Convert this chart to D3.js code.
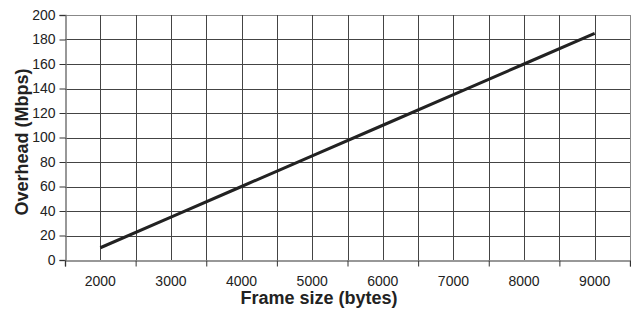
<!DOCTYPE html>
<html>
<head>
<meta charset="utf-8">
<script src="https://cdn.jsdelivr.net/npm/d3@7"></script>
<style>
body { margin: 0; background: #fff; }
text { font-family: "Liberation Sans", Arial, sans-serif; fill: #222; }
</style>
</head>
<body>
<script>
var frameSizes = [2000, 3000, 4000, 5000, 6000, 7000, 8000, 9000]
var overhead = [10, 35, 60, 85, 110, 135, 160, 185]
var yTicks = [0, 20, 40, 60, 80, 100, 120, 140, 160, 180, 200]
var boundaries = [1500, 2500, 3500, 4500, 5500, 6500, 7500, 8500, 9500]

var W = 631, H = 311
var m = { left: 65, right: 1, top: 15, bottom: 51 }

var svg = d3.select('body').append('svg')
	.attr('width', W)
	.attr('height', H)

var x = d3.scaleLinear().domain([1500, 9500]).range([m.left, W - m.right])
var y = d3.scaleLinear().domain([0, 200]).range([H - m.bottom, m.top])

// grid
var grid = svg.append('g')
grid.selectAll('line.h')
	.data(yTicks.slice(1))
	.enter().append('line')
	.attr('x1', m.left).attr('x2', W - m.right)
	.attr('y1', function(d) { return Math.round(y(d)) + 0.5 })
	.attr('y2', function(d) { return Math.round(y(d)) + 0.5 })
	.attr('stroke', function(d) { return d === 200 ? '#888' : '#444' })
	.attr('stroke-width', 1)
grid.selectAll('line.v')
	.data(frameSizes.concat(boundaries.slice(1)))
	.enter().append('line')
	.attr('y1', m.top).attr('y2', H - m.bottom)
	.attr('x1', function(d) { return Math.round(x(d)) + 0.5 })
	.attr('x2', function(d) { return Math.round(x(d)) + 0.5 })
	.attr('stroke', function(d) { return d === 9500 ? '#888' : '#444' })
	.attr('stroke-width', 1)

// y axis
var yAxis = svg.append('g')
	.attr('transform', 'translate(' + (m.left + 0.5) + ',0)')
	.call(d3.axisLeft(y).tickValues(yTicks).tickSize(6).tickPadding(4))
yAxis.select('.domain').attr('stroke', '#777').attr('stroke-width', 1.5)
yAxis.selectAll('.tick line').attr('stroke', '#333')
yAxis.selectAll('text').style('font-size', '14px').attr('fill', '#222')

// x axis: ticks at category boundaries, labels at category centers
var xAxis = svg.append('g')
	.attr('transform', 'translate(0,' + (Math.round(y(0)) + 0.5) + ')')
	.call(d3.axisBottom(x).tickValues(boundaries).tickSize(6).tickFormat(''))
xAxis.select('.domain').attr('stroke', '#777').attr('stroke-width', 1.5)
xAxis.selectAll('.tick line').attr('stroke', '#333')

svg.append('g').selectAll('text')
	.data(frameSizes)
	.enter().append('text')
	.attr('x', function(d) { return x(d) })
	.attr('y', 286)
	.attr('text-anchor', 'middle')
	.style('font-size', '14px')
	.text(function(d) { return d })

// line
var line = d3.line()
	.x(function(d, i) { return x(frameSizes[i]) })
	.y(function(d) { return y(d) })
svg.append('path')
	.datum(overhead)
	.attr('d', line)
	.attr('fill', 'none')
	.attr('stroke', '#222')
	.attr('stroke-width', 3)

// titles
svg.append('text')
	.attr('x', 319).attr('y', 304)
	.attr('text-anchor', 'middle')
	.style('font-size', '18px').style('font-weight', 'bold')
	.attr('fill', '#000')
	.text('Frame size (bytes)')
svg.append('text')
	.attr('transform', 'translate(28,142) rotate(-90)')
	.attr('text-anchor', 'middle')
	.style('font-size', '18px').style('font-weight', 'bold')
	.attr('fill', '#000')
	.text('Overhead (Mbps)')
</script>
</body>
</html>
